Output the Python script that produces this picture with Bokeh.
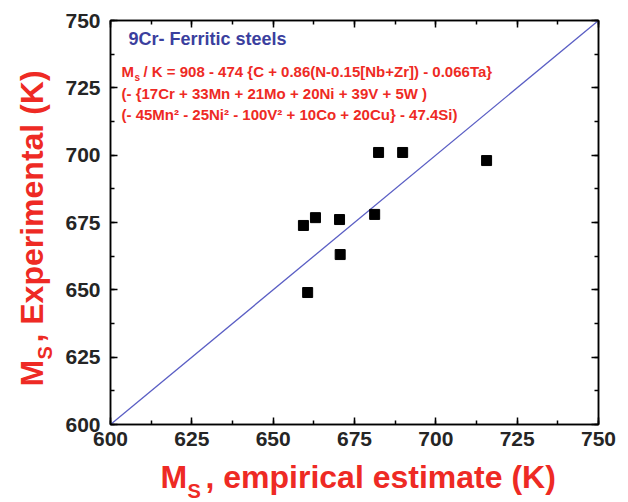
import numpy as np
from bokeh.plotting import figure
from bokeh.layouts import row, column
from bokeh.models import Label, LinearAxis, SingleIntervalTicker, CustomJSTickFormatter, Range1d
from bokeh.embed import file_html
from bokeh.resources import INLINE

# data
ms_estimate = [659.3, 663.0, 670.4, 670.6, 660.6, 681.2, 682.4, 689.8, 715.6]
ms_experimental = [673.9, 676.8, 676.1, 663.1, 649.0, 678.0, 701.0, 701.0, 698.0]
parity_x = [600, 750]
parity_y = [600, 750]
title_text = "9Cr- Ferritic steels"
eq_line1 = "/ K = 908 - 474 {C + 0.86(N-0.15[Nb+Zr]) - 0.066Ta}"
eq_line2 = "(- {17Cr + 33Mn + 21Mo + 20Ni + 39V + 5W )"
eq_line3 = "(- 45Mn\u00b2 - 25Ni\u00b2 - 100V\u00b2 + 10Co + 20Cu} - 47.4Si)"
x_title_rest = ", empirical estimate (K)"
y_title_rest = ", Experimental (K)"

FONT = "Liberation Sans"
RED = "#ee2a24"
BLUE = "#3b3f9e"
BASE = 0.38  # baseline correction (fraction of font size)

W, H = 628, 502
YW = 60            # width of the y-title strip
MAIN_W = W - YW    # 568
MAIN_H = 458
FRAME_L, FRAME_R = 110, 598   # frame position in the page

p = figure(width=MAIN_W, height=MAIN_H, title=None,
           x_range=Range1d(600, 750), y_range=Range1d(600, 750),
           output_backend="svg", toolbar_location=None,
           min_border_left=50, min_border_right=30, min_border_top=20, min_border_bottom=34)
p.xgrid.visible = False
p.ygrid.visible = False
p.outline_line_color = "black"
p.outline_line_width = 1.5
p.background_fill_color = "white"
p.border_fill_color = "white"

def style_axis(ax, labels=True):
    ax.ticker = SingleIntervalTicker(interval=25, num_minor_ticks=2)
    ax.axis_line_color = "black"
    ax.axis_line_width = 1.5
    ax.major_tick_in = 7
    ax.major_tick_out = 0
    ax.minor_tick_in = 4
    ax.minor_tick_out = 0
    ax.major_tick_line_width = 1.5
    ax.minor_tick_line_width = 1.5
    ax.major_tick_line_color = "black"
    ax.minor_tick_line_color = "black"
    ax.major_label_text_font = FONT
    ax.major_label_text_font_style = "bold"
    ax.major_label_text_font_size = "21px"
    ax.major_label_text_color = "#252525"
    ax.major_label_standoff = 7
    if not labels:
        ax.formatter = CustomJSTickFormatter(code="return '';")
        ax.major_label_standoff = 0
        ax.major_label_text_font_size = "1px"

for ax in p.xaxis + p.yaxis:
    style_axis(ax)
p.yaxis.major_label_standoff = 10

top_ax = LinearAxis()
style_axis(top_ax, labels=False)
p.add_layout(top_ax, "above")
right_ax = LinearAxis()
style_axis(right_ax, labels=False)
p.add_layout(right_ax, "right")

p.line(parity_x, parity_y, line_color="#5a5ec4", line_width=1.3)
p.scatter(ms_estimate, ms_experimental, marker="square", size=10, fill_color="black", line_color="black")

def lab(fig, text, x, y, size, color, angle=0.0, x_offset=0, y_offset=0):
    fig.add_layout(Label(x=x, y=y, x_offset=x_offset, y_offset=y_offset, text=text, angle=angle,
                         text_font=FONT, text_font_style="bold", text_font_size=f"{size}px",
                         text_color=color, text_baseline="alphabetic", text_align="left"))

# in-plot text: anchored at the frame's lower-left corner; offsets = 424 - baseline (page px)
def inplot(text, x_page, base_page, size, color):
    lab(p, text, 600, 600, size, color, x_offset=x_page - FRAME_L,
        y_offset=(424 - base_page) + BASE * size)

inplot(title_text, 128, 45, 18, BLUE)
inplot("M", 121, 77, 15, RED)
inplot("s", 134, 81, 10, RED)
inplot(eq_line1, 143, 77, 15, RED)
inplot(eq_line2, 121, 99, 15, RED)
inplot(eq_line3, 121, 120, 15, RED)

def strip(w, h, xr, yr):
    f = figure(width=w, height=h, title=None, x_range=xr, y_range=yr,
               x_axis_type=None, y_axis_type=None, output_backend="svg", toolbar_location=None,
               min_border=0)
    f.xgrid.visible = False
    f.ygrid.visible = False
    f.outline_line_color = None
    f.background_fill_color = "white"
    f.border_fill_color = "white"
    return f

# x-axis title strip below the main figure (its frame lines up with the main frame)
XH = H - MAIN_H
xf = strip(MAIN_W, XH, Range1d(FRAME_L, FRAME_R), Range1d(0, XH))
def xt(text, x_page, base_page, size):
    lab(xf, text, x_page, (H - base_page) + BASE * size, size, RED)
xt("M", 160, 489, 32)
xt("S", 187, 498, 20)
xt(x_title_rest, 205, 489, 32)

# y-axis title strip (left); text rotated counter-clockwise
yf = strip(YW, H, Range1d(0, YW), Range1d(0, H))
def yt(text, base_x, start_page_y, size):
    lab(yf, text, base_x - BASE * size, H - start_page_y, size, RED, angle=np.pi / 2)
yt("M", 44, 386, 32)
yt("S", 52, 359, 20)
yt(y_title_rest, 44, 342, 32)

layout = row(yf, column(p, xf, spacing=0), spacing=0)

open("out.html", "w").write(file_html(layout, INLINE))
